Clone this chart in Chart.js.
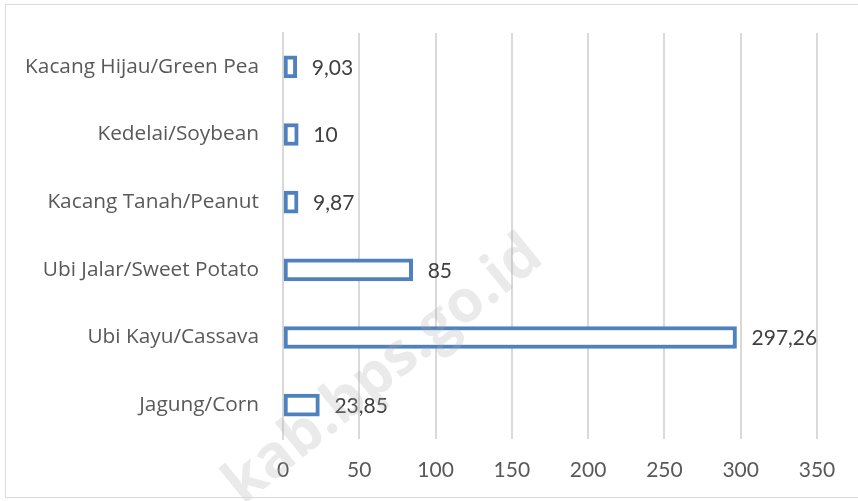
<!DOCTYPE html>
<html>
<head>
<meta charset="utf-8">
<script src="https://cdn.jsdelivr.net/npm/chart.js@4"></script>
<style>
  html, body { margin: 0; padding: 0; background: #fff; }
  #wrap { position: relative; width: 858px; height: 501px; }
  #frame { position: absolute; left: 5px; top: 4px; width: 870px; height: 494px; border: 1px solid #d9d9d9; box-sizing: border-box; }
</style>
</head>
<body>
<div id="wrap">
  <div id="frame"></div>
  <canvas id="prodChart" width="858" height="501"></canvas>
</div>
<script>
var categories = ['Kacang Hijau/Green Pea', 'Kedelai/Soybean', 'Kacang Tanah/Peanut',
                  'Ubi Jalar/Sweet Potato', 'Ubi Kayu/Cassava', 'Jagung/Corn'];
var production = [9.03, 10, 9.87, 85, 297.26, 23.85];
var xTicks = [0, 50, 100, 150, 200, 250, 300, 350];

// value labels at the end of each bar, comma decimals
var valueLabels = {
    id: 'valueLabels',
    afterDatasetsDraw: function (chart) {
        var ctx = chart.ctx;
        var meta = chart.getDatasetMeta(0);
        ctx.save();
        ctx.font = '21px Lato';
        ctx.fillStyle = '#404040';
        ctx.textBaseline = 'middle';
        meta.data.forEach(function (bar, i) {
            var txt = String(production[i]).replace('.', ',');
            ctx.fillText(txt, bar.x + 15, bar.y + 1);
        });
        ctx.restore();
    }
};

// faint diagonal watermark
var watermark = {
    id: 'watermark',
    afterDraw: function (chart) {
        var ctx = chart.ctx;
        ctx.save();
        ctx.translate(243, 506);
        ctx.rotate(-39 * Math.PI / 180);
        ctx.font = 'bold 59px "Open Sans"';
        ctx.fillStyle = 'rgba(170,170,170,0.25)';
        ctx.fillText('kab.bps.go.id', 0, 0);
        ctx.restore();
    }
};

var ctx = document.getElementById('prodChart').getContext('2d');
new Chart(ctx, {
    type: 'bar',
    data: {
        labels: categories,
        datasets: [{
            data: production,
            backgroundColor: '#ffffff',
            borderColor: '#4f81bd',
            borderWidth: 4,
            borderSkipped: false,
            barThickness: 22
        }]
    },
    options: {
        indexAxis: 'y',
        responsive: false,
        animation: false,
        layout: {padding: {top: 33, right: 41, left: 0, bottom: 0}},
        plugins: {legend: {display: false}, tooltip: {enabled: false}},
        scales: {
            x: {
                min: 0, max: 350,
                afterBuildTicks: function (axis) {
                    axis.ticks = xTicks.map(function (v) { return {value: v}; });
                },
                afterFit: function (axis) { axis.height = 62; },
                grid: {color: '#d9d9d9', lineWidth: 2, drawTicks: false},
                border: {display: false},
                ticks: {color: '#595959', font: {family: 'Lato', size: 21}, padding: 19, maxRotation: 0}
            },
            y: {
                afterFit: function (axis) { axis.width = 283; },
                grid: {display: false},
                border: {color: '#d9d9d9', width: 2},
                ticks: {color: '#595959', font: {family: '"Open Sans"', size: 20.8}, padding: 16}
            }
        }
    },
    plugins: [valueLabels, watermark]
});
</script>
</body>
</html>
